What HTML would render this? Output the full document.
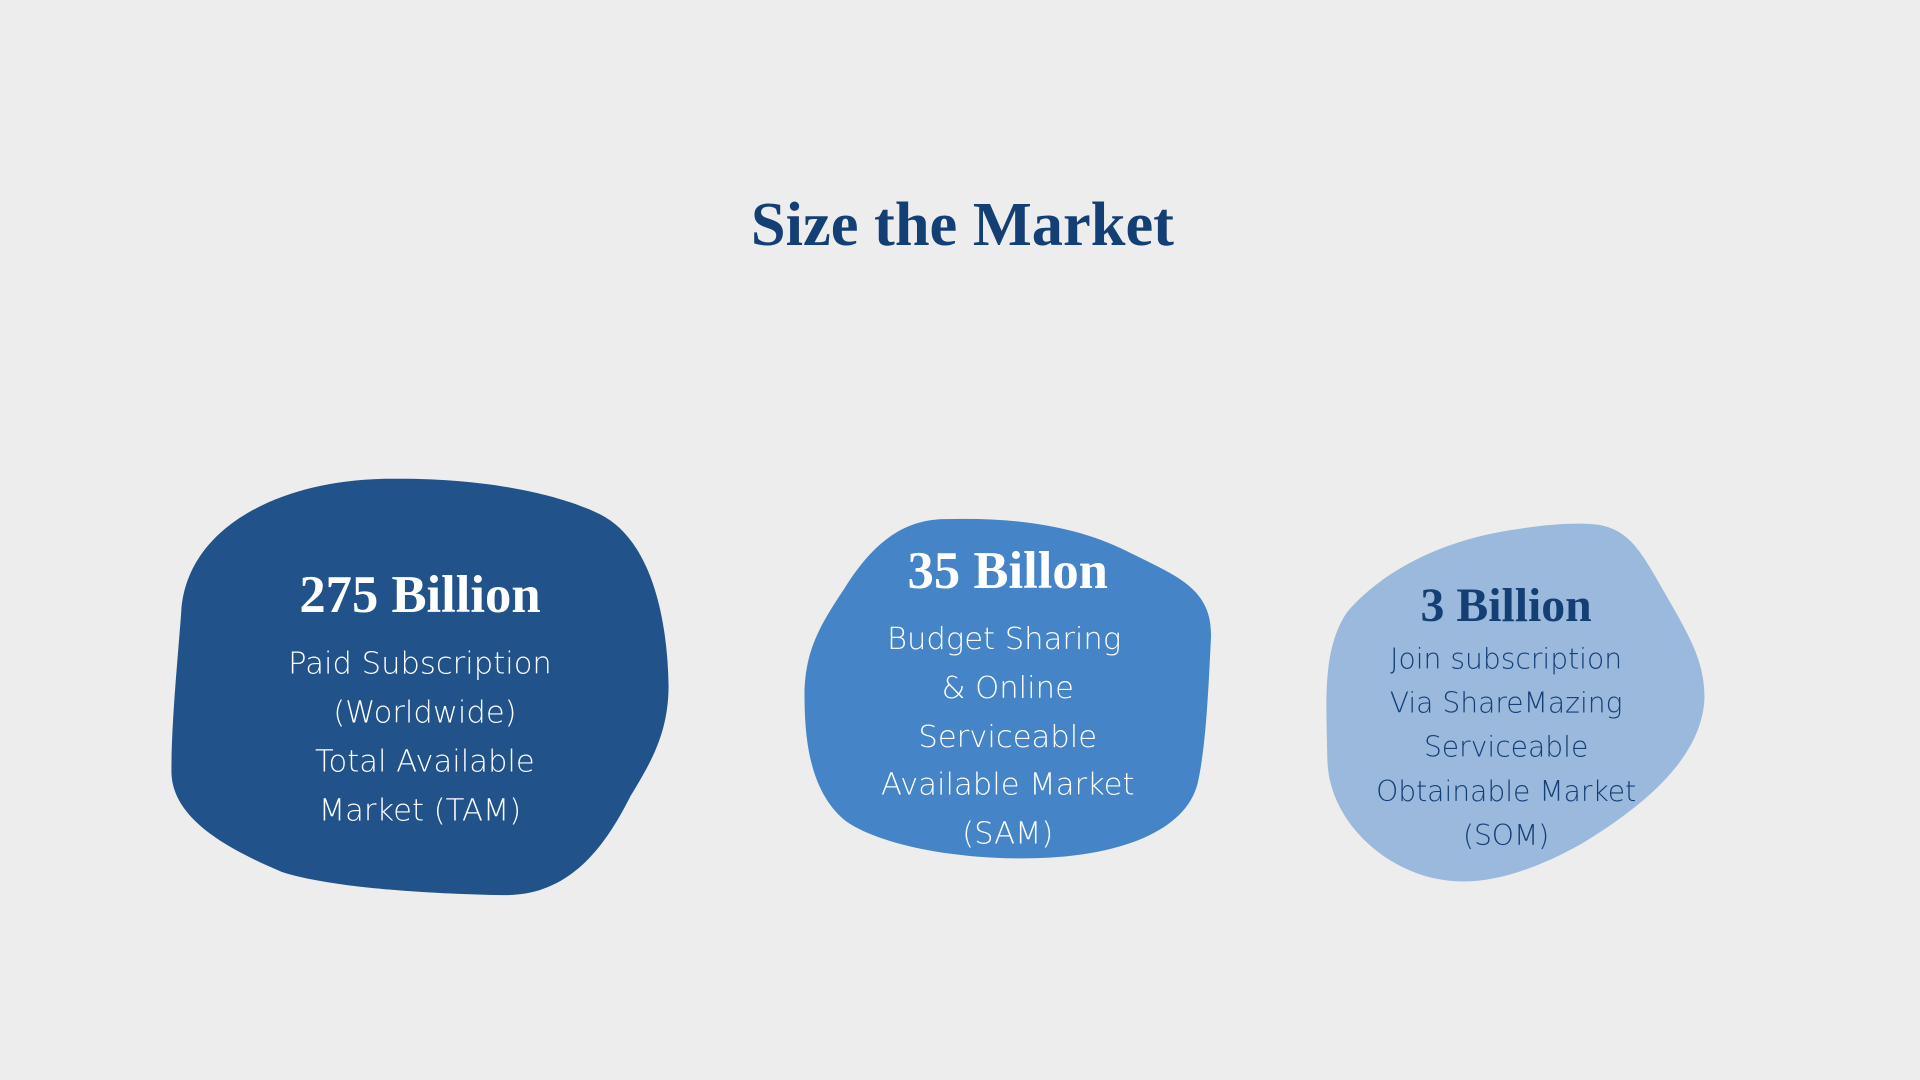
<!DOCTYPE html>
<html><head><meta charset="utf-8"><style>
html,body{margin:0;padding:0;background:#ededed;}
svg{display:block}
.h{font-family:"Liberation Serif",serif;font-weight:bold;}
.b{font-family:"DejaVu Sans","Liberation Sans",sans-serif;font-weight:200;}
</style></head><body>
<svg width="1920" height="1080" viewBox="0 0 1568 882" xmlns="http://www.w3.org/2000/svg">
<rect width="1568" height="882" fill="#ededed"/>
<text class="h" x="786" y="200" text-anchor="middle" font-size="51" fill="#143f74">Size the Market</text>

<g>
<path d="M 320 391 C 400 390, 460 405, 490 420 C 530 440, 545 500, 546 560 C 546 600, 530 625, 515 650 C 490 700, 460 732, 410 731 C 350 730, 270 725, 230 712 C 190 695, 140 670, 140 630 C 140 590, 145 540, 148 500 C 152 430, 230 391, 320 391 Z" fill="#21538a"/>
<text class="h" x="343" y="500" text-anchor="middle" font-size="43" fill="#fff">275 Billion</text>
<g class="b" font-size="25" fill="#ffffff" text-anchor="middle">
<text x="343" y="550">Paid Subscription</text>
<text x="347" y="590">(Worldwide)</text>
<text x="347" y="630">Total Available</text>
<text x="343" y="670">Market (TAM)</text>
</g></g>

<g>
<path d="M 770 424 C 830 422, 880 430, 920 450 C 960 470, 990 480, 989 520 C 987 560, 985 610, 978 640 C 968 680, 910 702, 830 701 C 760 700, 710 685, 690 670 C 660 645, 657 600, 657 565 C 658 530, 670 510, 690 480 C 715 440, 740 425, 770 424 Z" fill="#4585c7"/>
<text class="h" x="823" y="480" text-anchor="middle" font-size="43" fill="#fff">35 Billon</text>
<g class="b" font-size="25" fill="#ffffff" text-anchor="middle">
<text x="820" y="530">Budget Sharing</text>
<text x="823" y="570">&amp; Online</text>
<text x="823" y="610">Serviceable</text>
<text x="823" y="649">Available Market</text>
<text x="823" y="689">(SAM)</text>
</g></g>

<g>
<path d="M 1300 428 C 1330 430, 1340 450, 1360 485 C 1380 520, 1392 540, 1392 570 C 1390 620, 1340 660, 1290 690 C 1250 712, 1210 725, 1175 718 C 1130 710, 1085 670, 1084 620 C 1083 570, 1080 530, 1100 500 C 1130 465, 1180 440, 1240 432 C 1265 428, 1285 427, 1300 428 Z" fill="#9ab9dc"/>
<text class="h" x="1230" y="507" text-anchor="middle" font-size="39" fill="#143f74">3 Billion</text>
<g class="b" font-size="23" fill="#123f78" text-anchor="middle">
<text x="1230" y="546">Join subscription</text>
<text x="1230" y="582">Via ShareMazing</text>
<text x="1230" y="618">Serviceable</text>
<text x="1230" y="654">Obtainable Market</text>
<text x="1230" y="690">(SOM)</text>
</g></g>
</svg>
</body></html>
